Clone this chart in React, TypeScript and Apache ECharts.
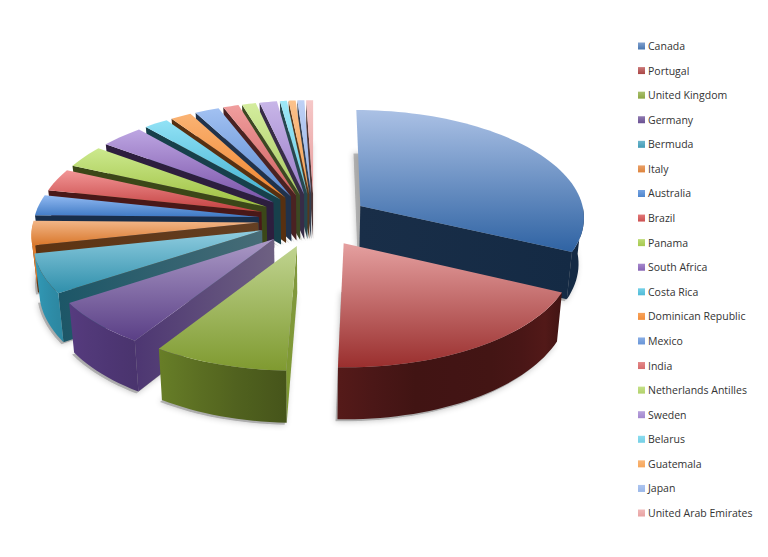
import React, { useEffect, useRef } from "react";
import * as echarts from "echarts";

const countries = ["Canada","Portugal","United Kingdom","Germany","Bermuda","Italy","Australia","Brazil","Panama","South Africa","Costa Rica","Dominican Republic","Mexico","India","Netherlands Antilles","Sweden","Belarus","Guatemala","Japan","United Arab Emirates"];
const shares = [115,67,31,24,21,13,11,12,12,12.5,7,6,7,4.5,4,5,2,2,2,2];
const lightColors = ["#abc1e5","#e5a0a0","#c0d490","#ab9ac6","#90cde0","#f2b688","#92baf2","#f29696","#cce98e","#bda6e2","#92e2f6","#fab374","#a2c1f2","#f09e9e","#d4ed9e","#c8b6e8","#9ee9f8","#fbc28c","#bfd1f6","#f6c8c8"];
const baseColors = ["#2f63a3","#9a2f2e","#7f9a30","#5a3f86","#2f8fab","#d9772a","#3e79c4","#c33f3f","#9ec040","#7a52a8","#3fb0cf","#f0842c","#5a8ad0","#cf6060","#a9ca60","#9a7cc8","#6bc8e0","#f5a050","#8fb0e5","#e59a9a"];

const cx = 314, cy = 220, R = 225, E = 55.6, persp = 0.0954, tilt = 0.478, depth = 46;
const rad = (d: number) => (d * Math.PI) / 180;
const total = shares.reduce((a, b) => a + b, 0);
const hex = (h: string) => [1, 3, 5].map((i) => parseInt(h.slice(i, i + 2), 16));
const rgb = (c: number[]) => `rgb(${c.map((v) => Math.max(0, Math.min(255, Math.round(v)))).join(",")})`;
const shade = (h: string, f: number) => hex(h).map((v) => v * f);
const lerpTable = (tb: number[][], x: number) => {
  if (x <= tb[0][0]) return tb[0][1];
  for (let i = 1; i < tb.length; i++) {
    if (x <= tb[i][0]) {
      const k = (x - tb[i - 1][0]) / (tb[i][0] - tb[i - 1][0]);
      return tb[i - 1][1] + k * (tb[i][1] - tb[i - 1][1]);
    }
  }
  return tb[tb.length - 1][1];
};
const outerShade = [[90,.42],[115.5,.42],[122,.55],[140,.44],[165,.42],[182,.55],[195,.65],[213,.82],[237,.95],[258,1.1],[275,1]];
const sideShade = [[115,.42],[183,1],[213,.85],[237,.6],[258,.43],[270,.38],[360,.35]];
const sideGrey = [[114,.04],[183,.15],[213,.45],[237,.35],[258,.12],[270,0],[360,0]];

type P = [number, number];
const top = (X: number, Y: number): P => {
  const s = 1 / (1 - (persp * Y) / R);
  return [cx + X * s, cy + tilt * Y * s];
};
const bottom = (X: number, Y: number): P => {
  const s = 1 / (1 - (persp * Y) / R);
  return [cx + X * s * 0.98, cy + tilt * Y * s + depth * s];
};

const sliceGeom = (i: number) => {
  const start = (shares.slice(0, i).reduce((a, b) => a + b, 0) / total) * 360;
  const end = start + (shares[i] / total) * 360;
  const mid = (start + end) / 2;
  const ox = E * Math.sin(rad(mid));
  const oy = -E * Math.cos(rad(mid));
  const steps = Math.max(4, Math.ceil((end - start) / 2));
  const arc: { th: number; X: number; Y: number }[] = [];
  for (let k = 0; k <= steps; k++) {
    const th = start + ((end - start) * k) / steps;
    arc.push({ th, X: ox + R * Math.sin(rad(th)), Y: oy - R * Math.cos(rad(th)) });
  }
  return { start, end, mid, ox, oy, arc };
};

const grad = (horizontal: boolean, stops: { offset: number; color: string }[]) =>
  new echarts.graphic.LinearGradient(0, 0, horizontal ? 1 : 0, horizontal ? 0 : 1, stops);

const radialFace = (i: number, g: ReturnType<typeof sliceGeom>, pt: { th: number; X: number; Y: number }) => {
  const base = baseColors[i];
  const outerC = shade(base, lerpTable(sideShade, pt.th));
  const mixG = lerpTable(sideGrey, pt.th);
  const apexC = outerC.map((v) => v * (1 - mixG) + 150 * mixG);
  const a = top(g.ox, g.oy), o = top(pt.X, pt.Y), ab = bottom(g.ox, g.oy), ob = bottom(pt.X, pt.Y);
  const outerLeft = o[0] < a[0];
  return {
    type: "polygon",
    silent: true,
    shape: { points: [o, a, ab, ob] },
    style: {
      fill: grad(true, [
        { offset: 0, color: rgb(outerLeft ? outerC : apexC) },
        { offset: 1, color: rgb(outerLeft ? apexC : outerC) },
      ]),
    },
  };
};

const renderSlice = (i: number) => () => {
  const g = sliceGeom(i);
  const children: any[] = [];
  const first = g.arc[0], last = g.arc[g.arc.length - 1];
  if (Math.sin(rad(g.start)) < 0) children.push(radialFace(i, g, first));
  if (Math.sin(rad(g.end)) > 0) children.push(radialFace(i, g, last));
  const vis = g.arc.filter((q) => q.th >= 90 && q.th <= 270);
  if (vis.length > 1) {
    const tp = vis.map((q) => top(q.X, q.Y));
    const bt = vis.map((q) => bottom(q.X, q.Y));
    const xs = tp.concat(bt).map((q) => q[0]);
    const minX = Math.min(...xs), maxX = Math.max(...xs);
    const stops = vis
      .filter((_, k) => k % Math.max(1, Math.floor(vis.length / 6)) === 0 || k === vis.length - 1)
      .map((q) => ({
        offset: Math.max(0, Math.min(1, (top(q.X, q.Y)[0] - minX) / (maxX - minX || 1))),
        color: rgb(shade(baseColors[i], lerpTable(outerShade, q.th))),
      }))
      .sort((a, b) => a.offset - b.offset);
    children.push({
      type: "polygon",
      silent: true,
      shape: { points: tp.concat(bt.reverse()) },
      style: { fill: grad(true, stops) },
    });
  }
  children.push({
    type: "polygon",
    silent: true,
    shape: { points: [top(g.ox, g.oy), ...g.arc.map((q) => top(q.X, q.Y))] },
    style: {
      fill: grad(false, [
        { offset: 0, color: lightColors[i] },
        { offset: 1, color: baseColors[i] },
      ]),
    },
  });
  return { type: "group", children };
};

const renderShadow = (_: any, api: any) => {
  const g = sliceGeom(api.value(0));
  const pts = [bottom(g.ox, g.oy), ...g.arc.map((q) => bottom(q.X, q.Y))].map((q) => [q[0] - 2, q[1] + 2]);
  return {
    type: "polygon",
    silent: true,
    shape: { points: pts },
    style: { fill: "rgba(130,130,130,0.55)", shadowColor: "rgba(0,0,0,0.45)", shadowBlur: 6 },
  };
};

export default function App() {
  const ref = useRef<HTMLDivElement>(null);
  useEffect(() => {
    const chart = echarts.init(ref.current!, undefined, { renderer: "svg" });
    const order = countries
      .map((_, i) => i)
      .sort((a, b) => -Math.cos(rad(sliceGeom(a).mid)) - -Math.cos(rad(sliceGeom(b).mid)));
    chart.setOption({
      animation: false,
      backgroundColor: "#ffffff",
      legend: {
        orient: "vertical",
        left: 638,
        top: 40,
        padding: 0,
        itemWidth: 7,
        itemHeight: 7,
        itemGap: 12.58,
        selectedMode: false,
        icon: "rect",
        textStyle: { fontFamily: "Open Sans", fontSize: 10.5, color: "#333333", lineHeight: 12, padding: [0, 0, 0, -2] },
        data: countries.map((name, i) => ({
          name,
          itemStyle: {
            color: grad(false, [
              { offset: 0, color: rgb(hex(baseColors[i]).map((v, k) => v * 0.35 + hex(lightColors[i])[k] * 0.65)) },
              { offset: 1, color: rgb(hex(baseColors[i]).map((v, k) => v * 0.8 + hex(lightColors[i])[k] * 0.2)) },
            ]),
          },
        })),
      },
      series: [
        {
          type: "custom",
          name: "__shadow",
          coordinateSystem: "none",
          silent: true,
          z: 1,
          data: countries.map((_, i) => [i]),
          renderItem: renderShadow,
        },
        ...order.map((i) => ({
          type: "custom",
          name: countries[i],
          coordinateSystem: "none",
          silent: true,
          z: 2,
          itemStyle: { color: baseColors[i] },
          data: [[shares[i]]],
          renderItem: renderSlice(i),
        })),
      ],
    });
    return () => chart.dispose();
  }, []);
  return <div ref={ref} style={{ position: "fixed", left: 0, top: 0, width: 768, height: 557 }} />;
}
